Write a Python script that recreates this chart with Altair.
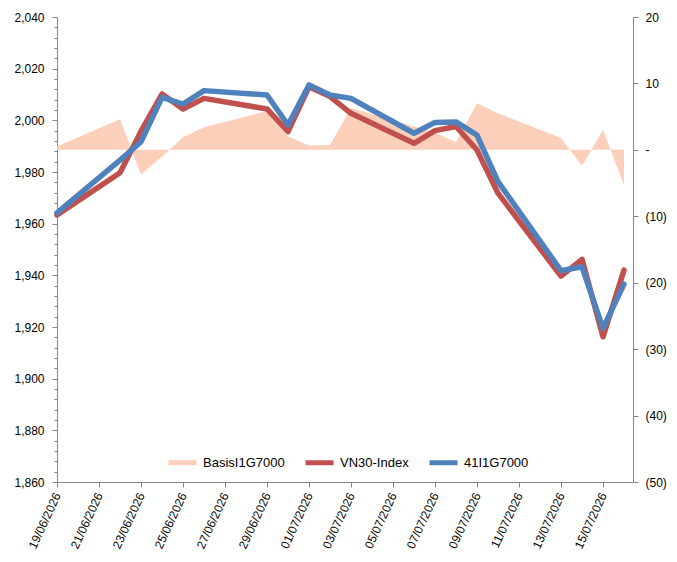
import altair as alt
import pandas as pd

# Trading days and closing values
dates = [
    "2026-06-19", "2026-06-22", "2026-06-23", "2026-06-24", "2026-06-25",
    "2026-06-26", "2026-06-29", "2026-06-30", "2026-07-01", "2026-07-02",
    "2026-07-03", "2026-07-06", "2026-07-07", "2026-07-08", "2026-07-09",
    "2026-07-10", "2026-07-13", "2026-07-14", "2026-07-15", "2026-07-16",
]
vn30 = [1963.4, 1979.7, 1995.8, 2010.2, 2004.4, 2008.5, 2004.4, 1995.6, 2013.0, 2009.2,
        2002.7, 1991.1, 1996.0, 1997.6, 1988.5, 1971.8, 1939.7, 1946.2, 1916.2, 1942.0]
f41 = [1964.2, 1984.6, 1991.7, 2008.9, 2006.3, 2011.5, 2009.8, 1998.2, 2013.7, 2009.8,
       2008.5, 1995.0, 1999.2, 1999.4, 1994.3, 1976.3, 1941.8, 1943.3, 1919.5, 1936.6]
basis = [0.5, 4.6, -3.7, -1.0, 1.9, 3.4, 5.8, 2.0, 0.65, 0.75,
         6.3, 3.5, 2.6, 1.15, 7.0, 5.5, 1.8, -2.4, 3.0, -5.3]

series_names = ["BasisI1G7000", "VN30-Index", "41I1G7000"]
series_colors = ["#FBCFB9", "#C0504D", "#4F81BD"]

# Axis tick positions
x_tick_dates = [
    "2026-06-19", "2026-06-21", "2026-06-23", "2026-06-25", "2026-06-27",
    "2026-06-29", "2026-07-01", "2026-07-03", "2026-07-05", "2026-07-07",
    "2026-07-09", "2026-07-11", "2026-07-13", "2026-07-15",
]
left_ticks = list(range(1860, 2041, 4))
right_ticks = list(range(-50, 21, 10))

FONT = "Liberation Sans"
GREY = "#868686"


def utc_day(s, hours=0, minutes=0):
    y, m, d = (int(p) for p in s.split("-"))
    return alt.DateTime(year=y, month=m, date=d, hours=hours, minutes=minutes, utc=True)


df = pd.DataFrame({"date": dates, "vn30": vn30, "f41": f41, "basis": basis})

x_scale = alt.Scale(type="utc", domain=[utc_day("2026-06-19"), utc_day("2026-07-16", 10, 17)])
x_axis = alt.Axis(
    values=[utc_day(d) for d in x_tick_dates],
    format="%d/%m/%Y",
    labelAngle=-65,
    labelAlign="right",
    labelBaseline="middle",
    labelPadding=6,
    tickSize=5,
    labelFlush=False,
    labelOverlap=False,
)

base = alt.Chart(df).encode(x=alt.X("date:T", scale=x_scale, axis=x_axis, title=None))

# Basis on the secondary (right) axis, filled from zero
area = base.mark_area(color=series_colors[0], opacity=1, interpolate="linear").encode(
    y=alt.Y(
        "basis:Q",
        scale=alt.Scale(domain=[-50, 20], nice=False, zero=False),
        axis=alt.Axis(
            orient="right",
            values=right_ticks,
            labelExpr="datum.value == 0 ? '-' : (datum.value < 0 ? '(' + format(-datum.value, 'd') + ')' : format(datum.value, 'd'))",
            tickSize=5,
            labelPadding=7,
            labelOverlap=False,
        ),
        title=None,
    ),
    y2=alt.datum(0),
)

left_scale = alt.Scale(domain=[1860, 2040], nice=False, zero=False)
left_axis = alt.Axis(
    orient="left",
    values=left_ticks,
    labelExpr="datum.value % 20 === 0 ? format(datum.value, ',') : ''",
    tickSize={"condition": {"test": "datum.value % 20 === 0", "value": 5}, "value": 3},
    labelPadding=8,
    labelOverlap=False,
)

color_scale = alt.Scale(domain=series_names, range=series_colors)
legend = alt.Legend(
    orient="none",
    legendX=109,
    legendY=429,
    direction="horizontal",
    title=None,
    symbolType="stroke",
    symbolSize=784,
    symbolStrokeWidth=5,
    labelFont=FONT,
    labelFontSize=13,
    labelColor="#000000",
    labelOffset=4,
    columnPadding=10,
    padding=0,
)

red = base.transform_calculate(series="'VN30-Index'").mark_line(
    strokeWidth=5.5, strokeCap="round", strokeJoin="round"
).encode(
    y=alt.Y("vn30:Q", scale=left_scale, axis=left_axis, title=None),
    color=alt.Color("series:N", scale=color_scale, legend=legend),
)

blue = base.transform_calculate(series="'41I1G7000'").mark_line(
    strokeWidth=5.5, strokeCap="round", strokeJoin="round"
).encode(
    y=alt.Y("f41:Q", scale=left_scale, axis=left_axis, title=None),
    color=alt.Color("series:N", scale=color_scale, legend=legend),
)

chart = (
    alt.layer(area, alt.layer(red, blue))
    .resolve_scale(y="independent")
    .properties(
        width=576,
        height=465,
        padding={"left": 57, "top": 17, "right": 44, "bottom": 80},
        autosize=alt.AutoSizeParams(type="none"),
        background="white",
    )
    .configure_view(stroke=None)
    .configure_axis(
        grid=False,
        labelFont=FONT,
        labelFontSize=12,
        labelColor="#000000",
        domainColor=GREY,
        tickColor=GREY,
        domainWidth=1,
        tickWidth=1,
    )
)

chart.save("out.html", embed_options={"renderer": "svg", "actions": False})
